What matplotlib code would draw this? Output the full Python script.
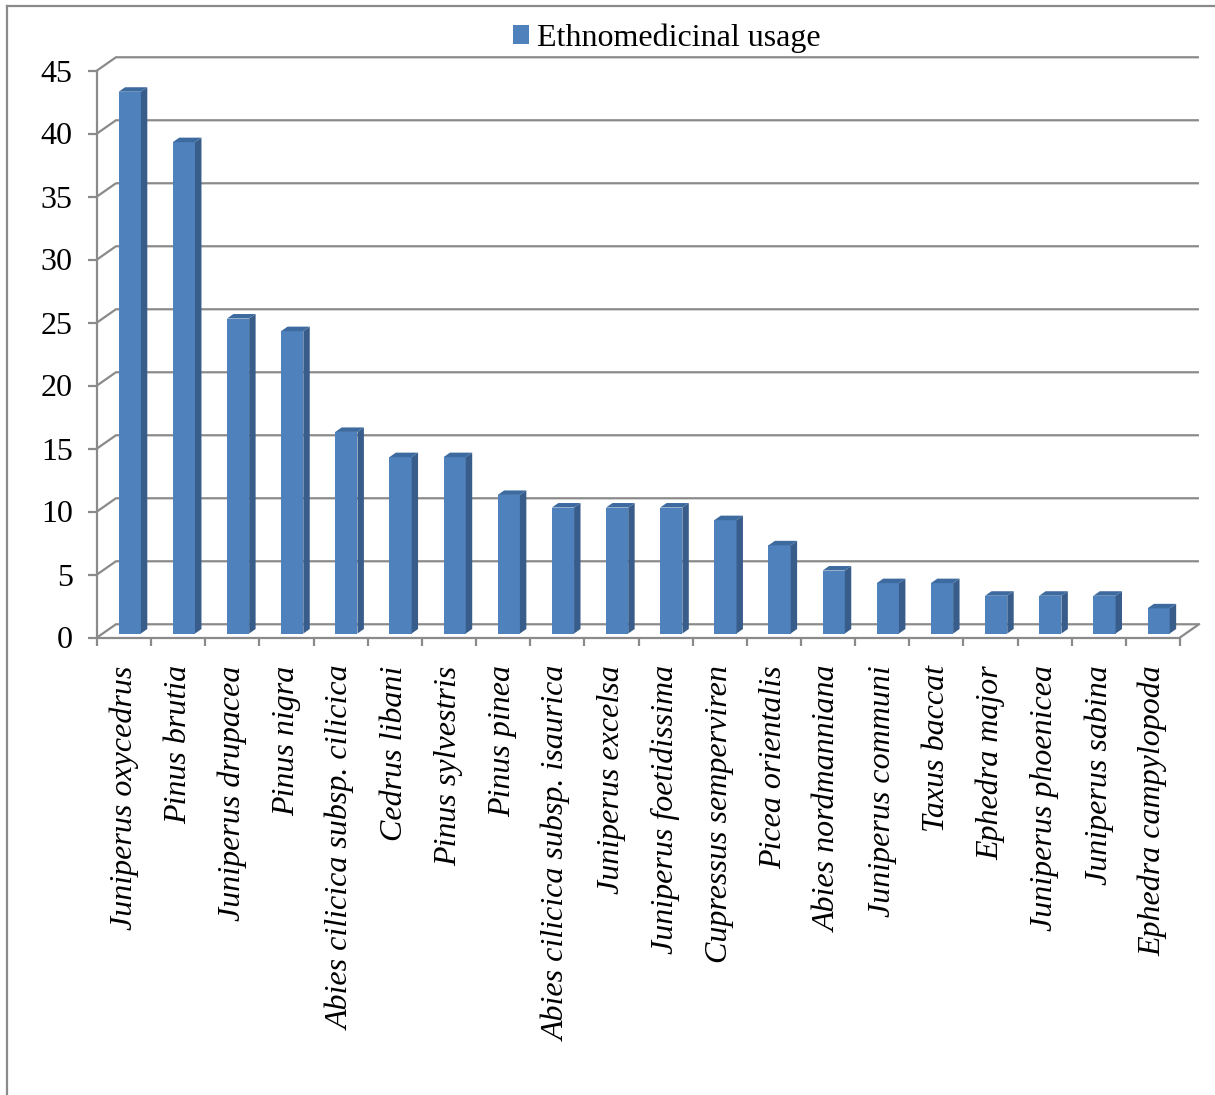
import matplotlib
matplotlib.use("Agg")
import matplotlib.pyplot as plt
from matplotlib.patches import Polygon
from matplotlib.lines import Line2D

plt.rcParams['font.family'] = ['Liberation Serif', 'DejaVu Serif']

species = ['Juniperus oxycedrus', 'Pinus brutia', 'Juniperus drupacea', 'Pinus nigra',
           'Abies cilicica subsp. cilicica', 'Cedrus libani', 'Pinus sylvestris',
           'Pinus pinea', 'Abies cilicica subsp. isaurica', 'Juniperus excelsa',
           'Juniperus foetidissima', 'Cupressus semperviren', 'Picea orientalis',
           'Abies nordmanniana', 'Juniperus communi', 'Taxus baccat', 'Ephedra major',
           'Juniperus phoenicea', 'Juniperus sabina', 'Ephedra campylopoda']
usage = [43, 39, 25, 24, 16, 14, 14, 11, 10, 10, 10, 9, 7, 5, 4, 4, 3, 3, 3, 2]
yticks = [0, 5, 10, 15, 20, 25, 30, 35, 40, 45]

FRONT = '#4f81bd'
SIDE = '#385d8a'
TOP = '#3d6a9f'
GRID = '#8a8a8a'

# fake depth of the 3d box, in data units
DX, DY = 0.35, 1.05
F0, F1 = 0.3, 0.64   # depth range the bars sit in
W = 0.41

W_PX, H_PX = 1215, 1095
fig = plt.figure(figsize=(W_PX / 100, H_PX / 100), dpi=100)
ax = fig.add_axes([97 / W_PX, 457.5 / H_PX, 1083 / W_PX, 567 / H_PX])
n = len(species)
ax.set_xlim(0, n)
ax.set_ylim(0, 45)

# back wall gridlines + diagonals
for v in yticks:
    ax.plot([0, DX, n + DX], [v, v + DY, v + DY], color=GRID, lw=1.6,
            clip_on=False, zorder=0, solid_capstyle='butt')
# floor
ax.plot([n, n + DX], [0, DY], color=GRID, lw=1.6, clip_on=False, zorder=0)

# bars
xs = [i + 0.5 + F0 * DX for i in range(n)]
bars = ax.bar(xs, usage, width=W, bottom=F0 * DY, color=FRONT, zorder=3,
              label='Ethnomedicinal usage')
d = (F1 - F0)
for x, v in zip(xs, usage):
    r = x + W / 2
    l = x - W / 2
    b = F0 * DY
    t = b + v
    side = Polygon([(r, b), (r + d * DX, b + d * DY), (r + d * DX, t + d * DY), (r, t)],
                   closed=True, facecolor=SIDE, edgecolor='none', zorder=3, clip_on=False)
    top = Polygon([(l, t), (r, t), (r + d * DX, t + d * DY), (l + d * DX, t + d * DY)],
                  closed=True, facecolor=TOP, edgecolor='none', zorder=3, clip_on=False)
    ax.add_patch(side)
    ax.add_patch(top)

for s in ['top', 'right']:
    ax.spines[s].set_visible(False)
for s in ['left', 'bottom']:
    ax.spines[s].set_color(GRID)
    ax.spines[s].set_linewidth(1.6)
    ax.spines[s].set_zorder(1)

ax.set_yticks(yticks)
ax.tick_params(axis='y', length=6.5, width=1.6, color=GRID, labelsize=23, pad=11)
ax.set_xticks(range(n + 1))
ax.set_xticklabels([])
ax.set_xticks([i + 0.5 for i in range(n)], minor=True)
ax.set_xticklabels(species, minor=True, rotation=90, fontstyle='italic', fontsize=23,
                   va='top', ha='center')
ax.tick_params(axis='x', which='major', length=6, width=1.6, color=GRID)
ax.tick_params(axis='x', which='minor', length=0, pad=20)

fig.legend(handles=[bars], labels=['Ethnomedicinal usage'], loc='center',
           bbox_to_anchor=(667 / W_PX, 1 - 38 / H_PX), frameon=False, fontsize=23,
           handlelength=0.5, handleheight=0.5, handletextpad=0.25)

# outer frame
fig.add_artist(Line2D([7 / W_PX, 7 / W_PX], [0, 1 - 6 / H_PX], color=GRID, lw=1.6))
fig.add_artist(Line2D([7 / W_PX, 1], [1 - 6 / H_PX, 1 - 6 / H_PX], color=GRID, lw=1.6))

fig.savefig('out.png', dpi=100)
